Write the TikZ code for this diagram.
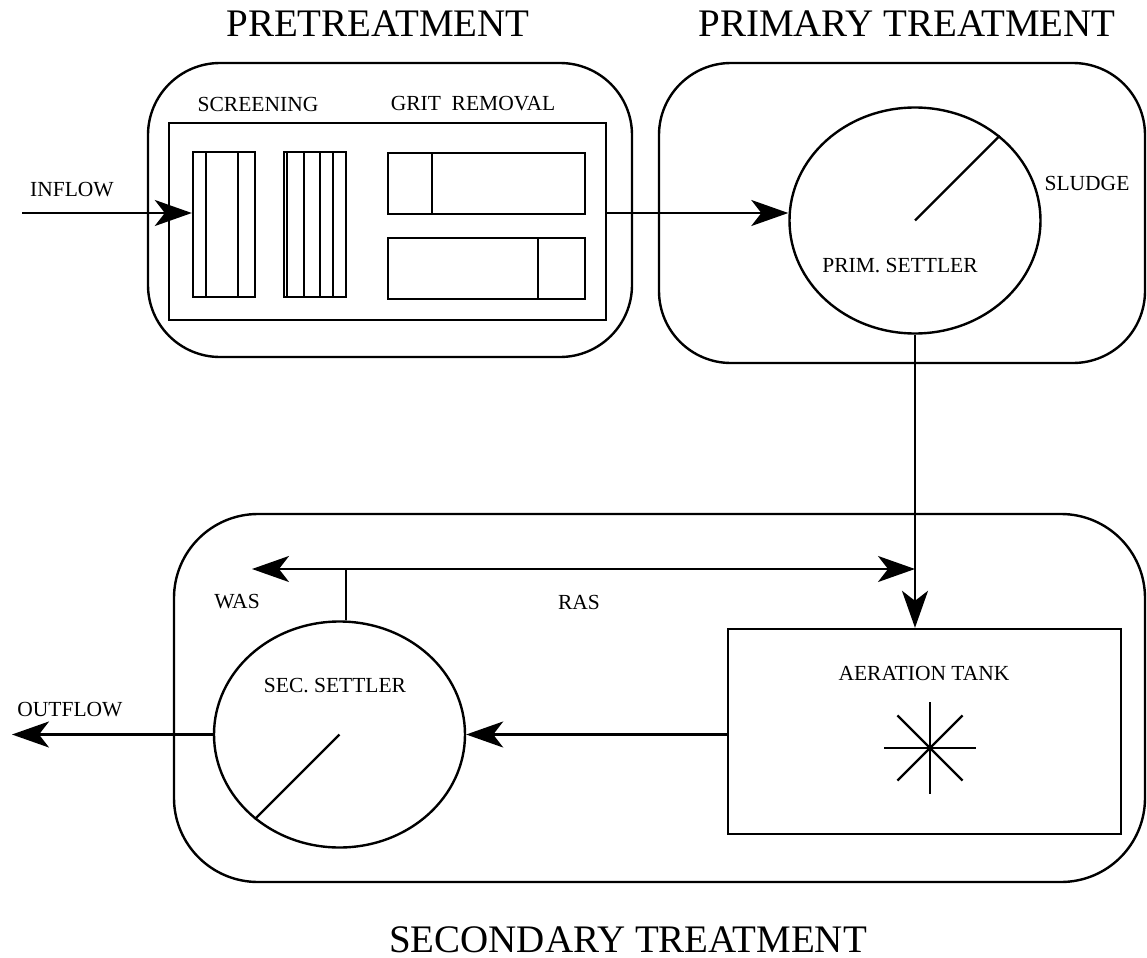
\documentclass[tikz,border=0pt]{standalone}
\usepackage{fontspec}
\setmainfont{Liberation Serif}
\usetikzlibrary{arrows.meta,shapes.geometric}
\begin{document}
\begin{tikzpicture}[x=0.5pt,y=-0.5pt,
  line width=1.2pt,
  stage/.style={draw, rectangle, inner sep=0pt, line width=1.2pt},
  unitbox/.style={draw, rectangle, inner sep=0pt, line width=1.2pt},
  settler/.style={draw, ellipse, inner sep=0pt, line width=1.2pt,
    minimum width=125.5pt, minimum height=113pt},
  lbl/.style={font=\fontsize{10.75pt}{13pt}\selectfont, inner sep=0pt},
  ttl/.style={font=\fontsize{19.5pt}{23pt}\selectfont, inner sep=0pt},
  tip/.tip={Stealth[length=18.5pt, width=13pt, inset=5pt]},
  flow/.style={-tip, line width=1.2pt},
  bar/.style={line width=1.1pt},
]
\useasboundingbox (0,0) rectangle (1147,958);

% stage outlines
\node[stage, rounded corners=36pt, minimum width=242pt, minimum height=147pt] (pre) at (390,210) {};
\node[stage, rounded corners=36pt, minimum width=243pt, minimum height=150pt] (prim) at (902,213) {};
\node[stage, rounded corners=42pt, minimum width=485.5pt, minimum height=184pt] (sec) at (659.5,698) {};

% stage titles
\node[ttl] (tpre) at (378,23.5) {PRETREATMENT};
\node[ttl] (tprim) at (907,23.5) {PRIMARY TREATMENT};
\node[ttl] (tsec) at (628,939.5) {SECONDARY TREATMENT};

% pretreatment units
\node[unitbox, minimum width=218.5pt, minimum height=98.5pt] (inner) at (387.5,221.5) {};
\node[unitbox, minimum width=31pt, minimum height=72.5pt] (scr1) at (224,224.5) {};
\node[unitbox, minimum width=31pt, minimum height=72.5pt] (scr2) at (315,224.5) {};
\node[unitbox, minimum width=98.5pt, minimum height=30.5pt] (grit1) at (486.5,183.5) {};
\node[unitbox, minimum width=98.5pt, minimum height=30.5pt] (grit2) at (486.5,268.5) {};
\foreach \x in {206,238} \draw[bar] (\x,152) -- (\x,297);
\foreach \x in {287,304,320,333} \draw[bar] (\x,152) -- (\x,297);
\draw[bar] (432,153) -- (432,214);
\draw[bar] (538,238) -- (538,299);
\node[lbl] (lscr) at (258,104) {SCREENING};
\node[lbl] (lgrit) at (473,104) {GRIT\ \ REMOVAL};

% settlers and aeration tank
\node[settler] (ps) at (915,220.5) {};
\node[settler] (ss) at (339.5,734.5) {};
\node[unitbox, minimum width=196.5pt, minimum height=102.5pt] (aer) at (924.5,731.5) {};
\draw (ps.center) -- (ps.45);
\draw (ss.center) -- (ss.225);
\foreach \a in {0,45,...,315} \draw (930,748) -- ++(\a:46);

\node[lbl] (lps) at (900,266) {PRIM. SETTLER};
\node[lbl] (lsl) at (1087,183) {SLUDGE};
\node[lbl] (lss) at (335,686) {SEC. SETTLER};
\node[lbl] (laer) at (924,673) {AERATION TANK};
\node[lbl] (lin) at (72,190) {INFLOW};
\node[lbl] (lout) at (70,710) {OUTFLOW};
\node[lbl] (lwas) at (237,602) {WAS};
\node[lbl] (lras) at (579,602) {RAS};

% flow lines
\coordinate (flowy) at (0,213);
\coordinate (inlet) at (22,213);
\coordinate (outlet) at (12,734.5);
\coordinate (rasy) at (0,569);
\coordinate (wasend) at (252,569);
\coordinate (stubx) at (346,0);

\draw[flow] (inlet) -- (scr1.west |- flowy);
\draw[flow] (inner.east |- flowy) -- (ps.west |- flowy);
\draw[flow] (ps.south) -- (ps.south |- aer.north);
\draw[tip-tip] (wasend) -- (ps.south |- rasy);
\draw[line width=0.7pt] (stubx |- rasy) -- (stubx |- ss.north);
\draw[flow] (aer.west |- ss.east) -- (ss.east);
\draw[flow] (ss.west) -- (outlet);
\end{tikzpicture}
\end{document}
